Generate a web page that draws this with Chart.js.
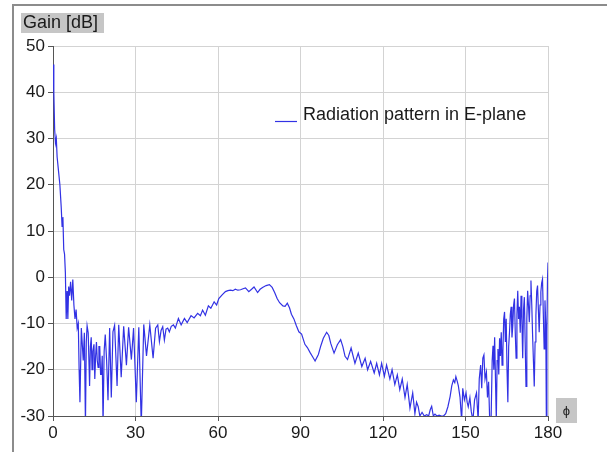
<!DOCTYPE html>
<html>
<head>
<meta charset="utf-8">
<script src="https://cdn.jsdelivr.net/npm/chart.js@4.4.1/dist/chart.umd.min.js"></script>
<style>
  body { margin: 0; background: #fff; }
  #wrap { position: relative; width: 607px; height: 452px; }
</style>
</head>
<body>
<div id="wrap"><canvas id="chart" width="607" height="452"></canvas></div>
<script>
// Radiation pattern in the E-plane, gain in dB against phi in degrees.
// Values, split in pieces along phi.

// main lobe falling off, 0..10 deg
const phiNear  = [0, 0.3, 0.6, 0.9, 1.2, 1.5, 2.0, 2.5, 3.0, 3.3, 3.6, 3.9, 4.2, 4.5, 4.8, 5.1, 5.4, 5.7, 6.0, 6.4, 6.8, 7.2, 7.6, 8.0, 8.4, 8.8, 9.2, 9.5, 9.8];
const gainNear = [46, 40, 32, 29, 30, 26, 23, 20, 15, 11, 13, 6, 5, 1, -9, -3, -9, -2, -4, -1, -5, -0.5, -6, -9, -7, -11, -10, -20, -27];

// deep ripples, 10..38 deg
const phiLobes  = [10.3, 10.7, 11.0, 11.4, 11.8, 12.1, 12.4, 12.8, 13.3, 13.6, 13.9, 14.2, 14.5, 14.9, 15.2, 15.5, 15.8, 16.1, 16.4, 16.7, 17.0, 17.3, 17.6, 17.9, 18.2, 18.6, 19.0, 19.5, 20.0, 20.6, 21.2, 21.8, 22.4, 23.3, 23.9, 24.8, 25.7, 26.7, 27.5, 28.5, 29.3, 30.3, 31.2, 32.1, 33.0, 34.0, 35.2, 36.4, 37.3];
const gainLobes = [-11, -15, -18, -12, -32, -14, -10.5, -12, -23.5, -15, -13, -20, -16, -14.5, -22, -17, -14, -18, -19.5, -15, -15, -21, -21, -17, -32, -16, -12.4, -18, -26.6, -11, -26, -11.8, -10.4, -23.5, -10.3, -21.6, -10.6, -19, -10.8, -17.8, -11, -27, -10.8, -32, -10.2, -17, -10.3, -17.5, -11];

// broad hump, 38..90 deg
const phiHump  = [38.1, 38.7, 39.3, 39.9, 40.5, 41.1, 41.7, 42.3, 43.0, 43.8, 44.5, 45.6, 46.6, 47.8, 48.8, 50.2, 51.3, 52.6, 53.6, 54.4, 55.4, 56.5, 57.4, 58.6, 59.5, 60.3, 61.5, 62.7, 63.6, 64.5, 65.4, 66.3, 67.2, 68.2, 69.1, 70.0, 71.2, 72.2, 73.1, 74.4, 75.3, 76.2, 77.5, 78.7, 79.7, 80.6, 81.5, 82.4, 83.6, 84.4, 85.2, 86.0, 86.7, 87.6, 88.5, 89.4];
const gainHump = [-10.3, -13.9, -11.5, -10.7, -13.6, -11.2, -11, -11.8, -10.6, -10.3, -11, -8.9, -10.3, -8.9, -9.8, -8.3, -8.8, -7.8, -8.3, -7.1, -8.2, -6.2, -6.7, -5.3, -6, -4.6, -3.8, -3.1, -2.9, -2.8, -2.9, -2.6, -2.8, -2.7, -2.5, -2.3, -3.1, -2.6, -2.1, -3.3, -2.6, -2.2, -1.8, -1.6, -2.2, -3.3, -4.6, -5.5, -6.2, -6.3, -5.6, -6.6, -8.0, -9.0, -10.5, -11.8];

// slow decay, 90..142 deg
const phiDecay  = [90.4, 91.6, 92.5, 93.5, 94.4, 95.3, 96.5, 97.4, 98.3, 99.5, 100.3, 101.0, 102.2, 103.4, 104.6, 105.4, 106.2, 107.1, 108.4, 109.8, 111.0, 112.3, 113.5, 114.4, 115.5, 116.8, 117.7, 118.7, 119.5, 120.5, 121.3, 122.5, 123.3, 124.3, 125.2, 126.1, 127.0, 128.0, 128.8, 129.8, 130.8, 131.6, 132.2, 132.8, 133.4, 134.2, 135.0, 135.9, 136.6, 137.2, 137.7, 138.3, 138.9, 139.6, 140.4, 141.2];
const gainDecay = [-12.3, -14.5, -15.2, -16.3, -17.2, -18.1, -16.7, -14.8, -13.2, -11.9, -12.6, -14.3, -16.4, -14.6, -13.5, -15.0, -17.1, -17.8, -15.3, -18.6, -16.4, -19.3, -17.5, -20, -18.2, -20.7, -18.6, -21.1, -18.6, -21.4, -19, -22, -20, -23.2, -21.1, -24.3, -22, -26, -23.2, -28.3, -25, -29.5, -27, -28, -30, -29.2, -30, -29.7, -30, -28.6, -27.9, -30, -29.6, -30, -29.8, -30];

// small bump, 142..155 deg
const phiBump  = [142.0, 142.8, 143.6, 144.4, 145.0, 145.6, 146.1, 146.5, 147.0, 147.4, 148.0, 148.6, 149.0, 149.6, 150.2, 150.6, 151.0, 151.6, 152.1, 152.7, 153.3, 154.0, 154.6];
const gainBump = [-30, -29.5, -28, -25.8, -23.5, -22.2, -22.8, -21.5, -22.5, -23.5, -25.9, -31, -24, -26.5, -25, -27, -28, -26, -29, -31, -26.5, -25, -31];

// back lobe, 155..180 deg
const phiBack  = [155.0, 155.5, 155.9, 156.3, 156.7, 157.1, 157.6, 158.0, 158.4, 158.8, 159.3, 159.7, 160.0, 160.3, 160.6, 160.9, 161.2, 161.5, 161.8, 162.1, 162.4, 162.7, 163.0, 163.3, 163.6, 163.9, 164.2, 164.5, 164.8, 165.1, 165.4, 165.7, 166.0, 166.3, 166.6, 166.9, 167.2, 167.5, 167.8, 168.1, 168.4, 168.7, 169.0, 169.3, 169.6, 169.9, 170.2, 170.5, 170.8, 171.1, 171.4, 171.7, 172.0, 172.3, 172.6, 172.9, 173.2, 173.5, 173.8, 174.1, 174.4, 174.7, 175.0, 175.3, 175.6, 175.9, 176.2, 176.5, 176.8, 177.1, 177.4, 177.7, 178.0, 178.3, 178.6, 178.9, 179.2, 179.4, 179.6, 179.8, 180.0];
const gainBack = [-22, -19, -24, -17.5, -16.8, -22, -20.5, -26, -22.6, -31, -31, -18, -14.8, -20, -13, -22, -31, -18, -15.5, -21, -13.2, -17, -11.9, -19, -16, -9, -7.5, -14, -9, -20, -27, -15, -11.9, -8, -6.4, -13, -10.4, -6, -4.6, -12, -17.5, -8, -2.9, -9, -6.4, -12, -4, -9, -17.5, -7, -4.3, -14, -23.6, -9, -2.9, -6, -9.7, -4, -0.7, -6, -12.6, -18, -23.6, -14, -8.2, -3, -1.8, -7, -11.9, -6, -3.2, -1.2, -0.4, -8, -15.5, -5, -10.4, -31, -12, -1.1, 3.2];

const xTicks = [0, 30, 60, 90, 120, 150, 180];
const yTicks = [-30, -20, -10, 0, 10, 20, 30, 40, 50];
const seriesLabel = 'Radiation pattern in E-plane';

const phiAll = [].concat(phiNear, phiLobes, phiHump, phiDecay, phiBump, phiBack);
const gainAll = [].concat(gainNear, gainLobes, gainHump, gainDecay, gainBump, gainBack);
const points = phiAll.map((p, i) => ({ x: p, y: gainAll[i] }));

const FONT = "'Liberation Sans', Arial, sans-serif";
const LINE_BLUE = '#3232e4';

// axis captions, in-plot legend and the figure frame
const decorations = {
  id: 'decorations',
  afterDraw(chart) {
    const ctx = chart.ctx;
    ctx.save();

    // frame (top + left edge only, like the original screenshot)
    ctx.strokeStyle = '#8c8c8c';
    ctx.lineWidth = 2;
    ctx.beginPath();
    ctx.moveTo(13, 452);
    ctx.lineTo(13, 5);
    ctx.lineTo(607, 5);
    ctx.stroke();

    // y caption box
    ctx.fillStyle = '#c6c6c6';
    ctx.fillRect(21, 13, 83, 20);
    ctx.fillStyle = '#1a1a1a';
    ctx.font = '18px ' + FONT;
    ctx.textBaseline = 'middle';
    ctx.textAlign = 'left';
    ctx.fillText('Gain [dB]', 23, 23.5);

    // x caption box
    ctx.fillStyle = '#c6c6c6';
    ctx.fillRect(556, 398, 21, 25);
    ctx.fillStyle = '#1a1a1a';
    ctx.font = '13px ' + FONT;
    ctx.textAlign = 'center';
    ctx.fillText('\u03D5', 566.5, 411);

    // legend
    ctx.strokeStyle = LINE_BLUE;
    ctx.lineWidth = 1.2;
    ctx.beginPath();
    ctx.moveTo(275, 121.5);
    ctx.lineTo(297, 121.5);
    ctx.stroke();
    ctx.fillStyle = '#1a1a1a';
    ctx.font = '18px ' + FONT;
    ctx.textAlign = 'left';
    ctx.fillText(chart.data.datasets[0].label, 303, 115);

    ctx.restore();
  }
};

new Chart(document.getElementById('chart'), {
  type: 'line',
  data: {
    datasets: [{
      label: seriesLabel,
      data: points,
      borderColor: LINE_BLUE,
      borderWidth: 1.2,
      pointRadius: 0,
      tension: 0,
      fill: false
    }]
  },
  options: {
    responsive: false,
    animation: false,
    layout: { padding: { left: 0, top: 46, right: 59, bottom: 0 } },
    plugins: {
      legend: { display: false },
      tooltip: { enabled: false }
    },
    scales: {
      x: {
        type: 'linear',
        min: 0,
        max: 180,
        afterBuildTicks: (scale) => { scale.ticks = xTicks.map(v => ({ value: v })); },
        afterFit: (scale) => { scale.height = 36; },
        grid: { color: '#d3d3d3', tickColor: '#555', tickLength: 5 },
        border: { color: '#555', width: 1 },
        ticks: { color: '#1a1a1a', font: { family: FONT, size: 17 }, padding: 2, maxRotation: 0 }
      },
      y: {
        min: -30,
        max: 50,
        afterBuildTicks: (scale) => { scale.ticks = yTicks.map(v => ({ value: v })); },
        afterFit: (scale) => { scale.width = 53; },
        grid: { color: '#d3d3d3', tickColor: '#555', tickLength: 5 },
        border: { color: '#555', width: 1 },
        ticks: { color: '#1a1a1a', font: { family: FONT, size: 17 }, padding: 3 }
      }
    }
  },
  plugins: [decorations]
});
</script>
</body>
</html>
